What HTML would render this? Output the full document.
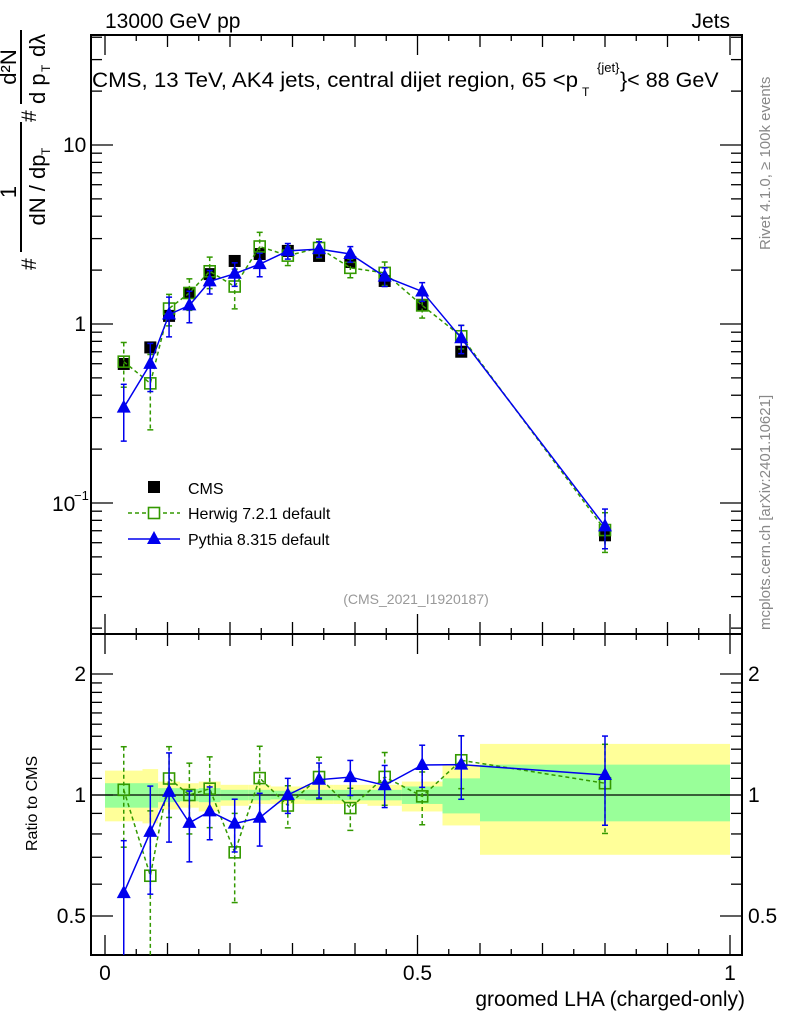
<!DOCTYPE html>
<html><head><meta charset="utf-8"><style>
body{margin:0;background:#fff;}
svg{display:block;font-family:"Liberation Sans",sans-serif;}
</style></head><body>
<svg id="c" width="786" height="1024" viewBox="0 0 786 1024"></svg>
<script>
const edges=[0.0,0.06,0.085,0.12,0.15,0.185,0.23,0.265,0.32,0.365,0.42,0.475,0.54,0.6,1.0];
const cmsVals=[0.598,0.74,1.11,1.49,1.90,2.25,2.46,2.56,2.40,2.22,1.74,1.28,0.70,0.066];
const herwigVals=[0.616,0.466,1.22,1.49,1.97,1.62,2.71,2.41,2.66,2.06,1.93,1.27,0.854,0.0706];
const pythiaVals=[0.341,0.599,1.13,1.27,1.73,1.91,2.16,2.56,2.62,2.46,1.84,1.52,0.833,0.074];
const herwigErr=[0.28,0.45,0.2,0.2,0.2,0.25,0.2,0.12,0.12,0.12,0.15,0.15,0.15,0.25];
const pythiaErr=[0.35,0.3,0.25,0.2,0.15,0.15,0.15,0.1,0.1,0.1,0.12,0.12,0.18,0.25];
const cmsErr=[0.05,0.05,0.04,0.04,0.04,0.03,0.03,0.03,0.03,0.03,0.04,0.05,0.06,0.1];
const yellowHi=[1.15,1.16,1.08,1.07,1.08,1.06,1.06,1.05,1.06,1.06,1.06,1.08,1.19,1.34];
const yellowLo=[0.86,0.85,0.92,0.93,0.91,0.94,0.95,0.95,0.95,0.95,0.94,0.91,0.84,0.71];
const greenHi=[1.07,1.07,1.04,1.035,1.04,1.03,1.03,1.025,1.03,1.03,1.03,1.05,1.10,1.19];
const greenLo=[0.93,0.93,0.96,0.965,0.96,0.97,0.97,0.975,0.97,0.97,0.97,0.95,0.90,0.86];
const xTicks=[0,0.5,1];const xTickLabels=["0","0.5","1"];
const ratioTicks=[0.5,1,2];const ratioTickLabels=["0.5","1","2"];

const svg=document.getElementById('c');const NS='http://www.w3.org/2000/svg';
const L=91,R=742,T=35,M=634,B=955;
const X=v=>105+625*v;
const Y=v=>324-179*Math.log10(v);
const YR=v=>795-402*Math.log10(v);
function mk(t,a,p){const e=document.createElementNS(NS,t);for(const k in a)e.setAttribute(k,a[k]);(p||svg).appendChild(e);return e;}
function txt(x,y,s,o,p){const e=mk('text',Object.assign({x:x,y:y,'font-size':19,fill:'#000'},o||{}),p);e.textContent=s;return e;}

for(let i=0;i<14;i++){
 const x0=X(edges[i]),x1=X(edges[i+1]);
 const r1=mk('rect',{x:x0,y:YR(yellowHi[i]),width:x1-x0,height:YR(yellowLo[i])-YR(yellowHi[i]),fill:'#ffff99'});
 
 
 const r2=mk('rect',{x:x0,y:YR(greenHi[i]),width:x1-x0,height:YR(greenLo[i])-YR(greenHi[i]),fill:'#99ff99'});
 
 
}
mk('line',{x1:L,x2:R,y1:YR(1),y2:YR(1),stroke:'#000','stroke-width':1.2});

mk('rect',{x:L,y:T,width:R-L,height:M-T,fill:'none',stroke:'#000','stroke-width':2});
mk('rect',{x:L,y:M,width:R-L,height:B-M,fill:'none',stroke:'#000','stroke-width':2});

for(let k=0;k<=20;k++){const v=k*0.05,x=X(v),len=(k%2==0)?(k%10==0?20:12):6;
 for(const [y0,d] of [[M,-1],[B,-1],[T,1],[M,1]]){mk('line',{x1:x,x2:x,y1:y0,y2:y0+d*len,stroke:'#000','stroke-width':1.3});}}
xTicks.forEach((v,i)=>{const t=txt(X(v),980,xTickLabels[i],{'text-anchor':'middle','font-size':21});
 });
for(let d=-2;d<=1;d++)for(let m=1;m<=9;m++){const v=m*Math.pow(10,d),y=Y(v);if(y<T||y>M)continue;
 const len=m==1?22:11;mk('line',{x1:L,x2:L+len,y1:y,y2:y,stroke:'#000','stroke-width':1.3});mk('line',{x1:R,x2:R-len,y1:y,y2:y,stroke:'#000','stroke-width':1.3});}
txt(86,331,'1',{'text-anchor':'end','font-size':21});
txt(63,152,'10',{'font-size':21});
txt(52,511,'10',{'font-size':21});txt(74,500,'−1',{'font-size':13});
for(const v of [0.4,0.5,0.6,0.7,0.8,0.9,1,1.1,1.2,1.3,1.4,1.5,1.6,1.7,1.8,1.9,2]){const y=YR(v);if(y<M||y>B)continue;
 const len=(v==0.5||v==1||v==2)?22:11;mk('line',{x1:L,x2:L+len,y1:y,y2:y,stroke:'#000','stroke-width':1.3});mk('line',{x1:R,x2:R-len,y1:y,y2:y,stroke:'#000','stroke-width':1.3});}
ratioTicks.forEach((v,i)=>{txt(86,YR(v)+7,ratioTickLabels[i],{'text-anchor':'end','font-size':21});txt(748,YR(v)+7,ratioTickLabels[i],{'font-size':21});});

function series(vals,errFn,color,dash,marker,name,yf,lo,hi){
 const g=mk('g',{});
 const cx=i=>X((edges[i]+edges[i+1])/2);
 if(dash!==null){let d='';vals.forEach((v,i)=>{d+=(i?'L':'M')+cx(i)+','+yf(v);});
  mk('path',{d:d,fill:'none',stroke:color,'stroke-width':1.5,'stroke-dasharray':dash},g);}
 vals.forEach((v,i)=>{const x=cx(i),e=errFn(i);
  const ya=yf(v*(1+e)),yb=yf(Math.max(v*(1-e),1e-6));
  const y1=Math.max(ya,lo),y2=Math.min(yb,hi);
  mk('line',{x1:x,x2:x,y1:y1,y2:y2,stroke:color,'stroke-width':1.5,'stroke-dasharray':dash||'none'},g);
  if(marker!=='cms'){if(ya>lo)mk('line',{x1:x-3,x2:x+3,y1:y1,y2:y1,stroke:color,'stroke-width':1.5},g);
   if(yb<hi)mk('line',{x1:x-3,x2:x+3,y1:y2,y2:y2,stroke:color,'stroke-width':1.5},g);}
  const y=yf(v);
  if(marker==='cms')mk('rect',{x:x-6,y:y-6,width:12,height:12,fill:'#000'},g);
  else if(marker==='sq')mk('rect',{x:x-5.5,y:y-5.5,width:11,height:11,fill:'none',stroke:color,'stroke-width':1.6},g);
  else mk('path',{d:`M${x},${y-8}L${x+7},${y+5}L${x-7},${y+5}Z`,fill:color},g);
 });}
series(cmsVals,i=>cmsErr[i],'#000',null,'cms','cms-series',Y,T,M);
series(herwigVals,i=>herwigErr[i],'#339900','4,3','sq','herwig-series',Y,T,M);
series(pythiaVals,i=>pythiaErr[i],'#0000ee','', 'tri','pythia-series',Y,T,M);
const hr=herwigVals.map((v,i)=>v/cmsVals[i]);const pr=pythiaVals.map((v,i)=>v/cmsVals[i]);
series(hr,i=>herwigErr[i],'#339900','4,3','sq','herwig-ratio',YR,M,B);
series(pr,i=>pythiaErr[i],'#0000ee','','tri','pythia-ratio',YR,M,B);

const lg=mk('g',{});
mk('rect',{x:148,y:481,width:12,height:12,fill:'#000'},lg);txt(188,494,'CMS',{'font-size':16},lg);
mk('line',{x1:128,x2:180,y1:513,y2:513,stroke:'#339900','stroke-width':1.5,'stroke-dasharray':'4,3'},lg);
mk('rect',{x:148.5,y:507.5,width:11,height:11,fill:'#fff',stroke:'#339900','stroke-width':1.6},lg);txt(188,519,'Herwig 7.2.1 default',{'font-size':16},lg);
mk('line',{x1:128,x2:180,y1:539,y2:539,stroke:'#0000ee','stroke-width':1.5},lg);
mk('path',{d:'M154,531L161,544L147,544Z',fill:'#0000ee'},lg);txt(188,545,'Pythia 8.315 default',{'font-size':16},lg);

txt(105,28,'13000 GeV pp',{'font-size':21});
txt(730,28,'Jets',{'font-size':21,'text-anchor':'end'});
const ttl=txt(92,87,'CMS, 13 TeV, AK4 jets, central dijet region, 65 <p',{'font-size':21.5,textLength:486,lengthAdjust:'spacingAndGlyphs'});

txt(582,96,'T',{'font-size':12});txt(597,72,'{jet}',{'font-size':13});
txt(620,87,'}< 88 GeV',{'font-size':21.5});
txt(416,604,'(CMS_2021_I1920187)',{'font-size':14,fill:'#999','text-anchor':'middle'});
txt(745,1006,'groomed LHA (charged-only)',{'font-size':21,'text-anchor':'end'});
txt(0,0,'Ratio to CMS',{'font-size':16,transform:'translate(37,851) rotate(-90)'});
// y axis title
const yt=mk('g',{transform:'translate(0,272) rotate(-90)'});

txt(2,36,'#',{'font-size':21},yt);
mk('line',{x1:20,x2:150,y1:21,y2:21,stroke:'#000','stroke-width':2},yt);
txt(80,16,'1',{'font-size':22,'text-anchor':'middle'},yt);
txt(82,45,'dN / dp',{'font-size':22,'text-anchor':'middle'},yt);txt(117,50,'T',{'font-size':12},yt);
txt(150,36,'#',{'font-size':21},yt);
mk('line',{x1:168,x2:242,y1:21,y2:21,stroke:'#000','stroke-width':2},yt);
txt(205,16,'d²N',{'font-size':22,'text-anchor':'middle'},yt);
txt(168,45,'d p',{'font-size':22},yt);txt(200,50,'T',{'font-size':12},yt);txt(215,45,'dλ',{'font-size':22},yt);
txt(0,0,'mcplots.cern.ch [arXiv:2401.10621]',{'font-size':15,fill:'#888',transform:'translate(770,630) rotate(-90)'});
txt(0,0,'Rivet 4.1.0, ≥ 100k events',{'font-size':15,fill:'#888',transform:'translate(770,250) rotate(-90)'});
</script>
</body></html>
